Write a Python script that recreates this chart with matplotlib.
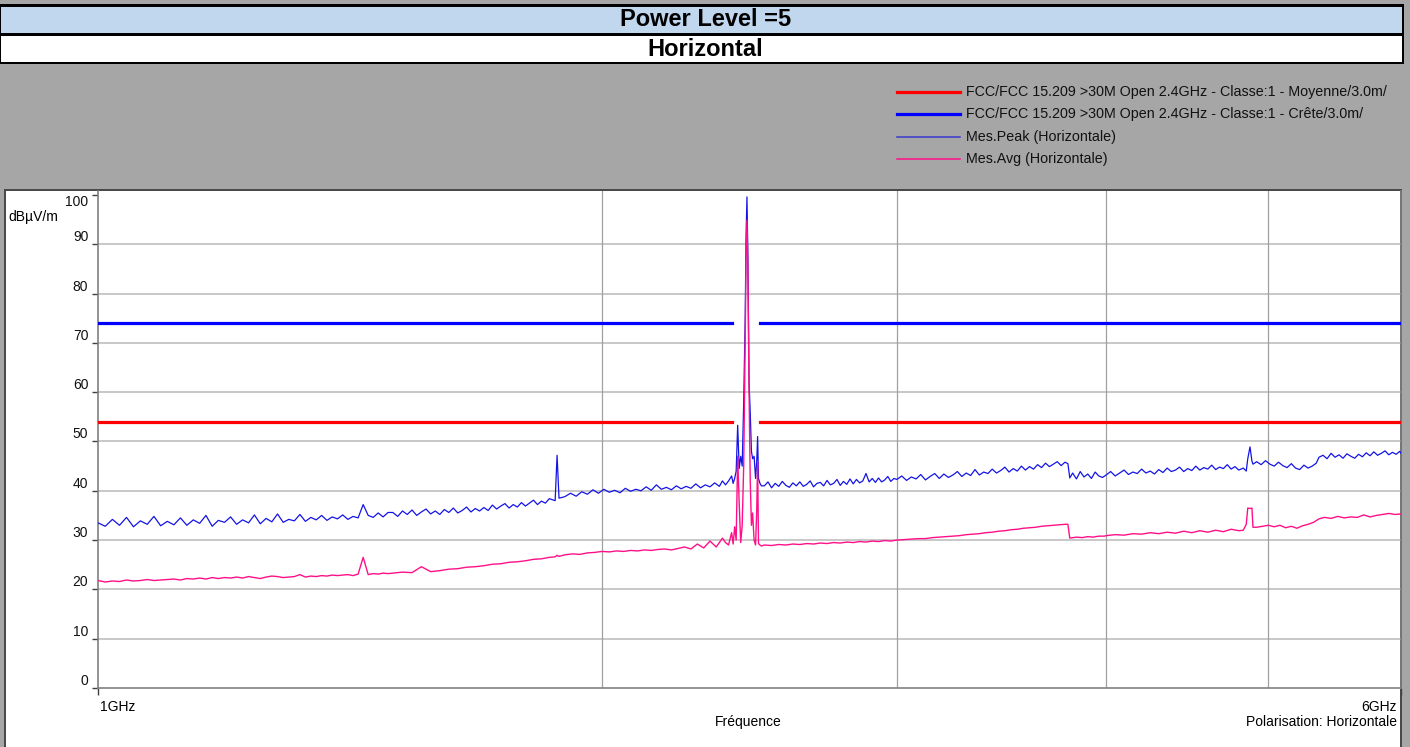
import matplotlib
matplotlib.use("Agg")
import matplotlib.pyplot as plt
from matplotlib.patches import Rectangle
from matplotlib.lines import Line2D
from matplotlib.ticker import NullLocator

plt.rcParams['font.family'] = ['Liberation Sans', 'DejaVu Sans']

# ---- Mes.Peak trace: frequency (MHz) / level (dBuV/m)
pk_freq_1 = [1000, 1010, 1020, 1030, 1040, 1050, 1060, 1070, 1080, 1090,
             1100, 1110, 1120, 1130, 1140, 1150, 1160, 1170, 1180, 1190,
             1200, 1210, 1220, 1230, 1240, 1250, 1260, 1270, 1280, 1290,
             1300, 1310, 1320, 1330, 1340, 1350, 1360, 1370, 1380, 1390,
             1400, 1410, 1420, 1430, 1440, 1450, 1460, 1470, 1480, 1490]
pk_1 = [33.5, 32.8, 34.2, 33.0, 34.6, 32.7, 33.9, 33.2, 34.8, 32.9,
        33.8, 33.1, 34.5, 33.0, 34.1, 33.4, 35.0, 32.8, 34.0, 33.6,
        34.7, 33.2, 34.1, 33.5, 35.1, 33.3, 34.4, 33.7, 35.3, 33.6,
        34.2, 33.9, 35.2, 33.8, 34.6, 34.1, 35.0, 34.0, 34.7, 34.3,
        35.1, 34.2, 34.8, 34.5, 37.2, 35.0, 34.6, 35.5, 34.7, 35.6]

pk_freq_2 = [1500, 1510, 1520, 1530, 1540, 1550, 1560, 1570, 1580, 1590,
             1600, 1610, 1620, 1630, 1640, 1650, 1660, 1670, 1680, 1690,
             1700, 1710, 1720, 1730, 1740, 1750, 1760, 1770, 1780, 1790,
             1800, 1810, 1820, 1830, 1840, 1850, 1860, 1875, 1880, 1885,
             1900, 1915, 1930, 1945, 1960, 1975, 1990, 2005, 2020, 2035,
             2050, 2065, 2080, 2095, 2110, 2125, 2140, 2155, 2170, 2185,
             2200, 2215, 2230, 2245, 2260, 2275, 2290, 2305, 2320, 2335,
             2350, 2360]
pk_2 = [35.6, 34.8, 35.9, 35.2, 36.1, 35.0, 35.7, 36.3, 35.3, 35.9,
        35.2, 36.2, 35.6, 36.5, 35.5, 36.0, 36.7, 35.7, 36.4, 35.9,
        36.6, 36.0, 37.1, 36.3, 36.9, 37.4, 36.5, 37.2, 36.7, 37.6,
        36.9, 37.5, 38.1, 37.2, 37.9, 37.5, 38.4, 38.0, 47.2, 38.5,
        38.8, 39.5, 38.9, 39.8, 39.3, 40.2, 39.5, 40.3, 39.7, 40.1,
        39.6, 40.5, 39.9, 40.3, 40.0, 40.8, 40.1, 41.2, 40.3, 40.7,
        40.2, 41.0, 40.4, 40.9, 40.5, 41.4, 40.6, 41.2, 40.8, 41.6,
        40.9, 42.0]

pk_freq_3 = [2370, 2380, 2390, 2395, 2400, 2405, 2410, 2415, 2420, 2425,
             2430, 2435, 2438, 2441, 2444, 2448, 2452, 2456, 2460, 2465,
             2470, 2474, 2477, 2480, 2485, 2490]
pk_3 = [41.2, 42.0, 43.0, 41.5, 42.5, 44.0, 53.3, 44.5, 47.0, 45.0,
        58.0, 75.0, 92.0, 99.6, 88.0, 62.0, 55.8, 48.0, 46.5, 47.0,
        42.5, 46.0, 51.0, 42.5, 41.5, 41.0]

pk_freq_4 = [2500, 2512.5, 2525, 2537.5, 2550, 2562.5, 2575, 2587.5, 2600, 2612.5,
             2625, 2637.5, 2650, 2662.5, 2675, 2687.5, 2700, 2712.5, 2725, 2737.5,
             2750, 2762.5, 2775, 2787.5, 2800, 2812.5, 2825, 2837.5, 2850, 2862.5,
             2875, 2887.5, 2900, 2912.5, 2925, 2937.5, 2950, 2962.5, 2975, 2987.5]
pk_4 = [41.0, 41.8, 40.6, 41.5, 40.9, 41.9, 41.1, 40.7, 41.6, 41.0,
        41.8, 40.9, 41.3, 42.0, 40.8, 41.5, 41.7, 41.0, 42.1, 41.2,
        41.5, 42.3, 41.1, 41.9, 41.3, 42.4, 41.4, 42.3, 41.6, 42.0,
        43.5, 41.8, 42.5, 41.7, 42.6, 41.8, 42.2, 42.9, 41.9, 42.5]

pk_freq_5 = [3000, 3020, 3040, 3060, 3080, 3100, 3120, 3140, 3160, 3180,
             3200, 3220, 3240, 3260, 3280, 3300, 3320, 3340, 3360, 3380,
             3400, 3420, 3440, 3460, 3480, 3500, 3520, 3540, 3560, 3580,
             3600, 3620, 3640, 3660, 3680, 3700, 3720, 3740, 3760, 3780]
pk_5 = [42.3, 43.0, 42.1, 42.8, 42.4, 43.3, 42.2, 42.9, 43.5, 42.5,
        43.4, 42.7, 43.2, 43.9, 42.9, 43.6, 43.1, 44.3, 43.2, 43.8,
        43.5, 44.4, 43.6, 44.1, 44.8, 43.8, 44.5, 44.0, 45.0, 44.2,
        44.9, 44.4, 45.3, 44.7, 45.6, 44.9, 45.4, 45.9, 45.1, 45.8]

pk_freq_6 = [3795, 3805, 3820, 3840, 3860, 3880, 3900, 3920, 3940, 3960, 3980]
pk_6 = [45.5, 42.6, 43.6, 42.4, 43.9, 42.8, 43.4, 42.5, 43.8, 43.0, 42.7]

pk_freq_7 = [4000, 4025, 4050, 4075, 4100, 4125, 4150, 4175, 4200, 4225,
             4250, 4275, 4300, 4325, 4350, 4375, 4400, 4425, 4450, 4475,
             4500, 4525, 4550, 4575, 4600, 4625, 4650, 4675, 4700, 4725,
             4750, 4775, 4800, 4830, 4850, 4860, 4875, 4888, 4895]
pk_7 = [43.2, 43.9, 43.0, 43.6, 44.2, 43.3, 43.8, 43.5, 44.4, 43.6,
        44.0, 43.4, 44.3, 43.7, 44.6, 43.9, 44.2, 44.8, 43.9, 44.5,
        44.1, 45.0, 44.2, 44.7, 44.4, 45.2, 44.3, 44.8, 44.5, 45.3,
        44.4, 44.9, 44.2, 44.6, 44.0, 46.5, 48.9, 46.0, 45.4]

pk_freq_8 = [4920, 4950, 4980, 5010, 5040, 5070, 5100, 5130, 5160, 5190,
             5220, 5250, 5280, 5310, 5340, 5360, 5390, 5420, 5450, 5480,
             5510, 5540, 5570, 5600, 5630, 5660, 5690, 5720, 5750, 5780,
             5810, 5840, 5870, 5900, 5930, 5960, 5990, 6000]
pk_8 = [45.9, 45.3, 46.1, 45.4, 45.0, 45.8, 45.1, 44.7, 45.5, 44.6,
        44.3, 45.2, 44.6, 45.0, 45.6, 46.8, 47.2, 46.5, 47.6, 46.8,
        47.3, 46.6, 47.5, 47.0, 46.6, 47.4, 46.9, 47.7, 47.1, 47.9,
        47.2, 47.6, 48.1, 47.3, 47.8, 47.4, 48.0, 47.6]

# ---- Mes.Avg trace
av_freq_1 = pk_freq_1
av_1 = [21.8, 21.5, 21.7, 21.6, 21.9, 21.7, 21.8, 22.0, 21.8, 21.9,
        22.0, 22.1, 21.9, 22.2, 22.1, 22.3, 22.1, 22.4, 22.2, 22.4,
        22.3, 22.5, 22.3, 22.6, 22.4, 22.2, 22.5, 22.7, 22.6, 22.4,
        22.5, 22.6, 23.0, 22.5, 22.7, 22.6, 22.8, 22.7, 22.9, 22.8,
        22.9, 23.0, 22.8, 23.1, 26.5, 23.0, 23.2, 23.1, 23.3, 23.2]

av_freq_2 = [1500, 1520, 1540, 1560, 1580, 1600, 1620, 1640, 1660, 1680,
             1700, 1720, 1740, 1760, 1780, 1800, 1820, 1840, 1860, 1875,
             1880, 1885, 1900, 1920, 1940, 1960, 1980, 2000, 2020, 2040,
             2060, 2080, 2100, 2120, 2140, 2160, 2180, 2200, 2220, 2240,
             2260, 2280, 2300, 2320, 2340, 2360]
av_2 = [23.3, 23.5, 23.4, 24.6, 23.6, 23.8, 24.1, 24.2, 24.5, 24.6,
        24.8, 25.1, 25.2, 25.5, 25.6, 25.8, 26.1, 26.2, 26.5, 26.6,
        26.9, 26.7, 27.0, 27.2, 27.1, 27.4, 27.5, 27.7, 27.6, 27.8,
        27.7, 27.9, 27.8, 28.0, 27.9, 28.1, 28.2, 28.0, 28.3, 28.6,
        28.2, 29.2, 28.4, 29.8, 28.6, 30.4]

av_freq_3 = pk_freq_3
av_3 = [29.5, 29.0, 31.5, 29.2, 32.7, 30.0, 47.0, 37.5, 29.5, 33.0,
        45.0, 70.0, 88.0, 94.9, 85.0, 60.0, 42.0, 33.0, 35.5, 30.0,
        29.0, 36.0, 46.0, 29.3, 29.0, 28.8]

av_freq_4 = [2500, 2525, 2550, 2575, 2600, 2625, 2650, 2675, 2700, 2725,
             2750, 2775, 2800, 2825, 2850, 2875, 2900, 2925, 2950, 2975]
av_4 = [29.0, 28.9, 29.1, 29.0, 29.2, 29.1, 29.3, 29.2, 29.4, 29.3,
        29.5, 29.4, 29.6, 29.5, 29.7, 29.6, 29.8, 29.7, 29.9, 29.8]

av_freq_5 = [3000, 3030, 3060, 3090, 3120, 3150, 3180, 3210, 3240, 3270,
             3300, 3330, 3360, 3390, 3420, 3450, 3480, 3510, 3540, 3570,
             3600, 3630, 3660, 3690, 3720, 3750, 3780]
av_5 = [30.0, 30.1, 30.2, 30.3, 30.3, 30.5, 30.6, 30.7, 30.8, 30.9,
        31.1, 31.2, 31.3, 31.5, 31.6, 31.8, 31.9, 32.1, 32.2, 32.4,
        32.5, 32.6, 32.8, 32.9, 33.0, 33.1, 33.2]

av_freq_6 = [3795, 3805, 3840, 3870, 3900, 3930, 3960, 3990]
av_6 = [33.2, 30.4, 30.6, 30.5, 30.7, 30.6, 30.8, 30.8]

av_freq_7 = [4000, 4050, 4100, 4150, 4200, 4250, 4300, 4350, 4400, 4450,
             4500, 4550, 4600, 4650, 4700, 4750, 4800, 4830, 4850, 4860,
             4875, 4888, 4895]
av_7 = [30.9, 31.1, 31.0, 31.3, 31.2, 31.5, 31.3, 31.6, 31.4, 31.8,
        31.5, 31.9, 31.6, 32.0, 31.7, 32.2, 31.9, 32.0, 33.2, 36.5,
        36.4, 36.5, 32.6]

av_freq_8 = [4920, 4960, 5000, 5040, 5080, 5120, 5160, 5200, 5240, 5280,
             5320, 5360, 5400, 5450, 5500, 5550, 5600, 5650, 5700, 5750,
             5800, 5850, 5900, 5950, 6000]
av_8 = [32.6, 32.8, 33.0, 32.7, 33.0, 32.5, 32.8, 32.4, 32.9, 33.2,
        33.6, 34.3, 34.6, 34.4, 34.8, 34.5, 34.7, 34.6, 35.1, 34.7,
        35.0, 35.2, 35.4, 35.2, 35.3]

peak_freq = pk_freq_1 + pk_freq_2 + pk_freq_3 + pk_freq_4 + pk_freq_5 + pk_freq_6 + pk_freq_7 + pk_freq_8
peak = pk_1 + pk_2 + pk_3 + pk_4 + pk_5 + pk_6 + pk_7 + pk_8
avg_freq = av_freq_1 + av_freq_2 + av_freq_3 + av_freq_4 + av_freq_5 + av_freq_6 + av_freq_7 + av_freq_8
avg = av_1 + av_2 + av_3 + av_4 + av_5 + av_6 + av_7 + av_8

# FCC 15.209 limits, not drawn inside the 2390-2483.5 MHz band
limit_bands = [(1000, 2390), (2483.5, 6000)]
limit_avg = 54
limit_peak = 74

legend_labels = ["FCC/FCC 15.209 >30M Open 2.4GHz - Classe:1 - Moyenne/3.0m/",
                 "FCC/FCC 15.209 >30M Open 2.4GHz - Classe:1 - Crête/3.0m/",
                 "Mes.Peak (Horizontale)",
                 "Mes.Avg (Horizontale)"]
yticks = [0, 10, 20, 30, 40, 50, 60, 70, 80, 90, 100]
vgrid = [2000, 3000, 4000, 5000]

W, H = 1410, 747
RED, BLUE, PEAKC, PINK = '#ff0000', '#0000ff', '#1414e6', '#ff1088'


def fx(px):
    return px / W


def fy(py):
    return 1 - py / H


def box(fig, x0, y0, x1, y1, color):
    fig.patches.append(Rectangle((fx(x0), fy(y1)), (x1 - x0) / W, (y1 - y0) / H,
                                 transform=fig.transFigure, facecolor=color,
                                 edgecolor='none', zorder=-5))


fig = plt.figure(figsize=(W / 100, H / 100), dpi=100)
fig.patch.set_facecolor('#a6a6a6')

# title bands
box(fig, 0, 4, 1404, 64, '#000000')
box(fig, 1, 7, 1402, 33, '#c0d7ee')
box(fig, 1, 36, 1402, 62, '#ffffff')
fig.text(fx(706), fy(20), "Power Level =5", ha='center', va='center',
         fontsize=17, fontweight='bold')
fig.text(fx(705), fy(49), "Horizontal", ha='center', va='center',
         fontsize=17, fontweight='bold')

# chart panel
box(fig, 4, 189, 1402, 747, '#4a4a4a')
box(fig, 6, 191, 1400, 747, '#ffffff')

# legend
legend_styles = [(RED, 2.3), (BLUE, 2.3), ('#3a3ad0', 1.1), (PINK, 1.1)]
legend_rows = [92, 114, 137, 159]
for lab, (c, lw), ry in zip(legend_labels, legend_styles, legend_rows):
    fig.add_artist(Line2D([fx(897), fx(960)], [fy(ry), fy(ry)], color=c, lw=lw,
                          transform=fig.transFigure))
    fig.text(fx(966), fy(ry), lab, ha='left', va='center', fontsize=10.3,
             color='#111111')

ax = fig.add_axes([fx(98), fy(688), fx(1401) - fx(98), fy(191) - fy(688)])
ax.set_facecolor('none')
ax.set_xscale('log')
ax.set_xlim(1000, 6000)
ax.set_ylim(0, 100.8)

for g in yticks[1:-1]:
    ax.axhline(g, color='#c4c4c4', lw=1.3, zorder=1)
for g in vgrid:
    ax.axvline(g, color='#a0a0a0', lw=0.9, zorder=1)

for a, b in limit_bands:
    ax.plot([a, b], [limit_avg, limit_avg], color=RED, lw=2.3, zorder=3)
    ax.plot([a, b], [limit_peak, limit_peak], color=BLUE, lw=2.3, zorder=3)

ax.plot(peak_freq, peak, color=PEAKC, lw=0.9, zorder=4)
ax.plot(avg_freq, avg, color=PINK, lw=1.0, zorder=5)

for s in ['left', 'bottom', 'right']:
    ax.spines[s].set_color('#808080')
    ax.spines[s].set_linewidth(1.2)
ax.spines['top'].set_visible(False)

ax.set_xticks([1000, 6000])
ax.set_xticklabels(['', ''])
ax.xaxis.set_minor_locator(NullLocator())
ax.tick_params(axis='x', length=5, color='#404040', width=1)
ax.set_yticks(yticks)
ax.set_yticklabels([str(t) for t in yticks])
ax.tick_params(axis='y', length=4, color='#404040', width=1, pad=3,
               labelsize=10, labelcolor='#111111')
for t, lab in zip(yticks, ax.get_yticklabels()):
    lab.set_verticalalignment('top' if t == 100 else 'bottom')

fig.text(fx(8), fy(217), "dBµV/m", ha='left', va='center', fontsize=10)
fig.text(fx(100), fy(707), "1GHz", ha='left', va='center', fontsize=10)
fig.text(fx(1397), fy(707), "6GHz", ha='right', va='center', fontsize=10)
fig.text(fx(748), fy(722), "Fréquence", ha='center', va='center', fontsize=10)
fig.text(fx(1397), fy(722), "Polarisation: Horizontale", ha='right',
         va='center', fontsize=10)

fig.savefig("out.png", dpi=100)
